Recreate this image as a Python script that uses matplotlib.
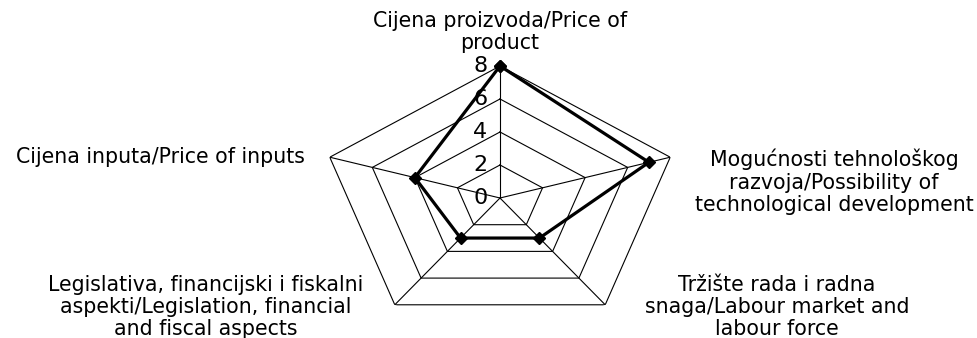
import numpy as np
import matplotlib
matplotlib.use("Agg")
import matplotlib.pyplot as plt

categories = [
    "Cijena proizvoda/Price of\nproduct",
    "Mogućnosti tehnološkog\nrazvoja/Possibility of\ntechnological development",
    "Tržište rada i radna\nsnaga/Labour market and\nlabour force",
    "Legislativa, financijski i fiskalni\naspekti/Legislation, financial\nand fiscal aspects",
    "Cijena inputa/Price of inputs",
]
values = [8, 7, 3, 3, 4]
ticks = [0, 2, 4, 6, 8]

plt.rcParams['font.family'] = ['DejaVu Sans']
W, H = 978, 338
fig = plt.figure(figsize=(W / 100, H / 100), dpi=100)
cx, cy, rx, ry = 500, 198, 179, 132
ax = fig.add_axes([(cx - rx) / W, (H - cy - ry) / H, 2 * rx / W, 2 * ry / H], projection='polar')
ax.set_aspect('auto')
ax.set_theta_zero_location('N')
ax.set_theta_direction(-1)
ax.set_ylim(0, 8)
ax.grid(False)
ax.spines['polar'].set_visible(False)
ax.set_xticks([])
ax.set_yticks([])
ax.patch.set_alpha(0)

n = len(categories)
theta = np.arange(n) * 2 * np.pi / n
tc = np.append(theta, theta[0])

for t in ticks[1:]:
    ax.plot(tc, [t] * (n + 1), color='black', lw=0.8)
for th in theta:
    ax.plot([th, th], [0, ticks[-1]], color='black', lw=0.8)

vc = values + values[:1]
ax.plot(tc, vc, color='black', lw=2.3, marker='D', markersize=6.5, clip_on=False)

for t in ticks:
    ax.annotate(str(t), xy=(0, t), xytext=(-9, 0), textcoords='offset points',
                ha='right', va='center', fontsize=16, annotation_clip=False)

fs = 14.8
ls = 1.15
fig.text(500 / W, 1 - 32 / H, categories[0], ha='center', va='center', fontsize=fs, linespacing=ls)
fig.text(834 / W, 1 - 182 / H, categories[1], ha='center', va='center', fontsize=fs, linespacing=ls)
fig.text(777 / W, 1 - 307 / H, categories[2], ha='center', va='center', fontsize=fs, linespacing=ls)
fig.text(206 / W, 1 - 307 / H, categories[3], ha='center', va='center', fontsize=fs, linespacing=ls)
fig.text(160 / W, 1 - 157 / H, categories[4], ha='center', va='center', fontsize=fs, linespacing=ls)

fig.savefig('out.png', dpi=100)
